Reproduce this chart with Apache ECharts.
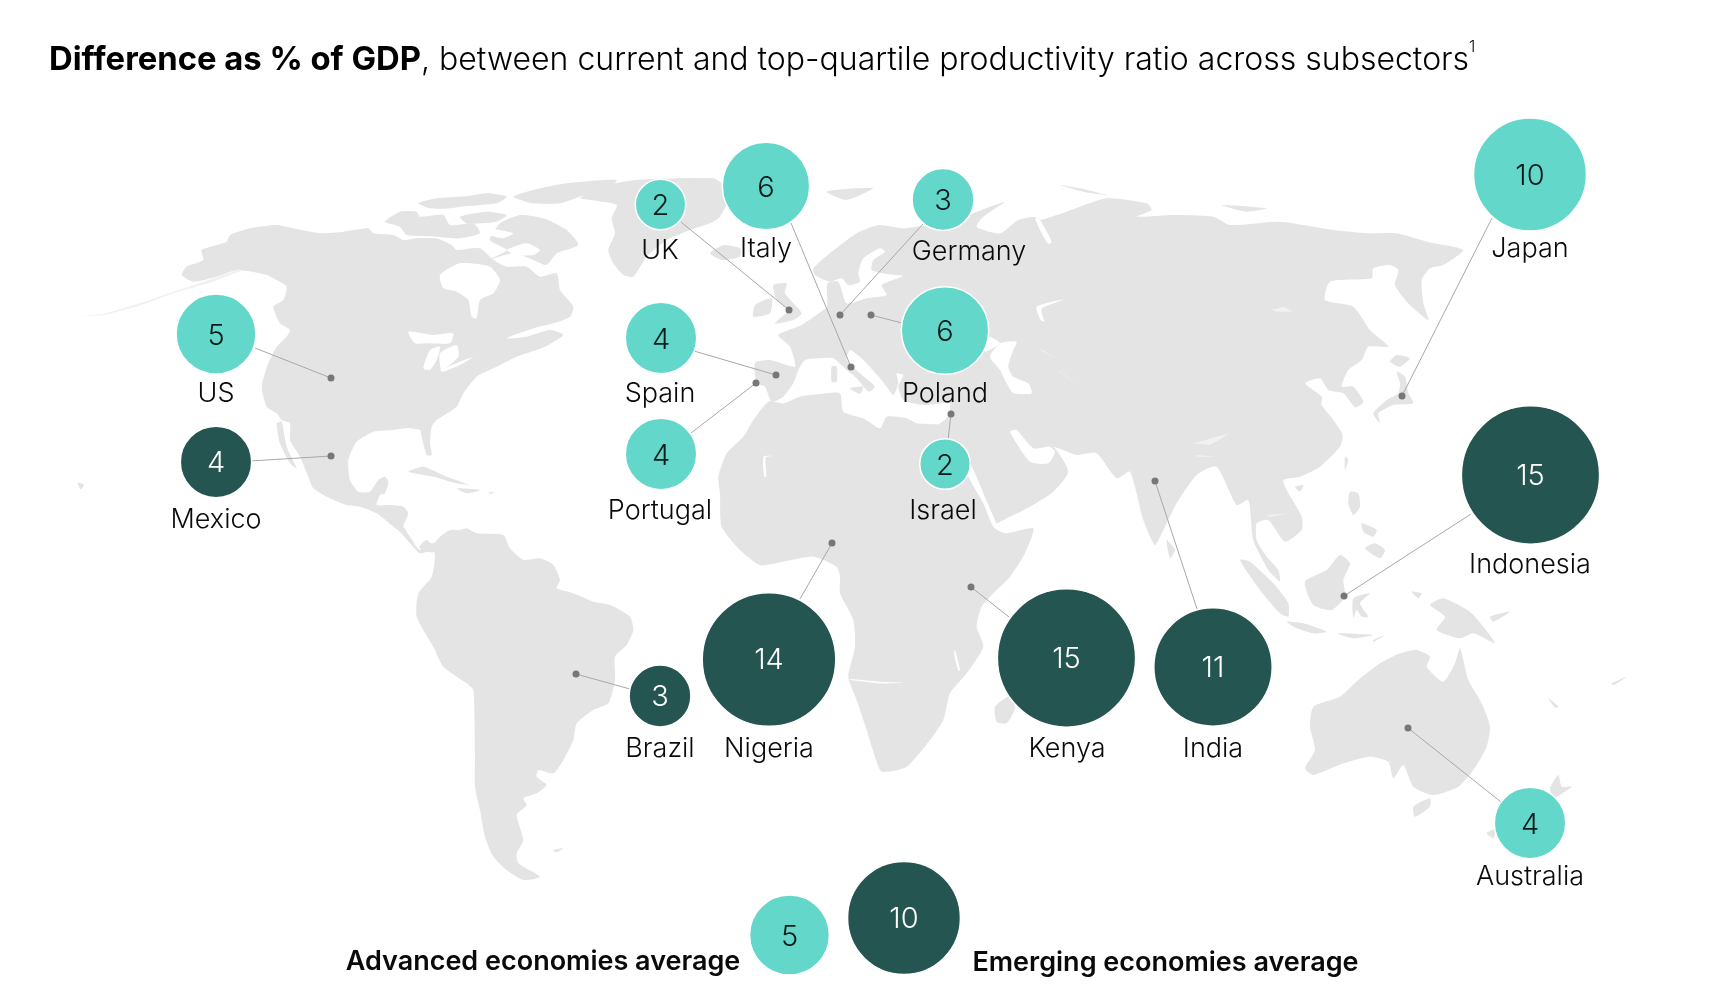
<!DOCTYPE html>
<html>
<head>
<meta charset="utf-8">
<style>html,body{margin:0;padding:0;background:#fff}#c{width:1716px;height:1004px}</style>
<script src="https://cdn.jsdelivr.net/npm/echarts@6/dist/echarts.min.js"></script>
</head>
<body>
<div id="c"></div>
<script>
// ---------- chart data ----------
const countries = ['UK','Italy','Germany','Japan','US','Spain','Poland','Mexico','Portugal','Israel','Indonesia','Nigeria','Kenya','India','Brazil','Australia'];
const values    = [2,6,3,10,5,4,6,4,4,2,15,14,15,11,3,4];
const groups    = ['adv','adv','adv','adv','adv','adv','adv','em','adv','adv','em','em','em','em','em','adv'];
const legendLabels = ['Advanced economies average','Emerging economies average'];
const legendValues = [5,10];
const titleBold = 'Difference as % of GDP';
const titleRest = ', between current and top-quartile productivity ratio across subsectors';

// ---------- layout (chart is laid out on a 1716 x 1004 value plane) ----------
const bubbleAt = {UK:[660.5,204.5],Italy:[766,186],Germany:[943,199.5],Japan:[1530,174.5],US:[216,334],Spain:[661,338],Poland:[945,330.5],Mexico:[216,462],Portugal:[661,454],Israel:[945,464],Indonesia:[1530.5,475],Nigeria:[769,659.5],Kenya:[1066.5,658],India:[1213,667],Brazil:[660,696],Australia:[1530,823]};
const pinAt = {UK:[789,310],Italy:[851,367],Germany:[840,315],Japan:[1402,396],US:[331,378],Spain:[776,375],Poland:[871,315],Mexico:[331,456],Portugal:[756,383],Israel:[951,414],Indonesia:[1344,596],Nigeria:[832,543],Kenya:[971,587],India:[1155,481],Brazil:[576,674],Australia:[1408,728]};
const leaderFrom = {UK:[681,222],Italy:[791,223],Germany:[923,224],Japan:[1492,218],US:[255,348],Spain:[694,351],Poland:[902,323],Mexico:[250,461],Portugal:[691,433],Israel:[948,440],Indonesia:[1471,514],Nigeria:[800,599],Kenya:[1009,617],India:[1197,609],Brazil:[630,689],Australia:[1501,802]};
const nameAt = {UK:[660,251],Italy:[766,249],Germany:[969,252],Japan:[1530,249],US:[216,393.5],Spain:[660,393.5],Poland:[945,393.5],Mexico:[216,520],Portugal:[660,511],Israel:[943,511],Indonesia:[1530,564.5],Nigeria:[769,748.5],Kenya:[1067,748.5],India:[1213,748.5],Brazil:[660,749],Australia:[1530,877]};
const legendBubbleAt = [[789.5,935],[904,918]];
const legendLabelAt = [[543,962],[1165.5,963]];
const areaScale = 35.7;

// ---------- backdrop map outline, traced in crops at 3x ----------
const P = (ox, oy, a) => { const r = []; for (let i = 0; i < a.length; i += 2) r.push([ox + a[i] / 3, oy + a[i + 1] / 3]); return r; };
const Z5 = [60,160], Z6 = [300,160], Z7 = [360,520], Z8 = [690,170], Z9 = [700,380], Z10 = [1000,170], Z11 = [1140,440];
const land = [
  // North America
  P(...Z5,[365,345,380,320,430,300,425,270,470,255,500,245,510,225,570,205,650,195,700,205,780,220,850,215,925,205,940,220,1000,225,1030,240,1070,235,1130,235,1175,255,1190,270,1260,265,1300,300,1340,320,1400,320,1440,350,1490,340,1500,390,1540,440,1530,470,1480,490,1420,505,1340,535,1400,530,1470,510,1510,525,1455,560,1370,590,1300,625,1250,650,1210,700,1190,740,1130,780,1115,800,1110,850,1115,885,1100,885,1085,830,1080,810,1040,805,1000,810,940,815,890,845,865,900,870,960,895,995,930,995,955,960,975,950,985,965,975,1000,960,1005,950,1035,985,1035,1030,1040,1045,1060,1030,1100,1050,1130,1075,1160,1100,1140,1130,1175,1100,1175,1060,1150,1040,1130,1000,1100,950,1060,900,1040,860,1035,800,1010,760,985,745,950,720,890,690,840,690,790,665,780,650,760,620,740,605,680,625,610,650,560,680,530,690,510,660,490,640,440,670,420,680,380,650,360,620,345,575,335,530,330,470,350,400,365]),
  P(...Z5,[650,790,665,785,680,860,710,925,690,910,660,850]),
  P(...Z5,[975,185,1020,155,1070,155,1080,170,1150,165,1170,195,1240,190,1260,220,1200,235,1130,230,1040,225,1020,200]),
  P(...Z5,[1075,130,1130,115,1230,110,1240,130,1170,145,1110,145]),
  P(...Z6,[565,300,620,270,570,240,600,190,660,165,730,175,800,210,835,255,770,280,740,315,700,300,640,280]),
  P(...Z6,[640,110,700,90,800,70,950,60,920,90,840,110,780,130,700,130]),
  P(...Z6,[380,130,470,115,560,100,620,110,590,130,480,140,410,145]),
  P(...Z6,[480,170,560,155,620,165,590,185,500,190]),
  P(...Z6,[840,115,900,80,1010,60,1240,55,1270,75,1280,130,1260,170,1230,190,1170,210,1100,240,1040,290,1000,350,970,345,940,310,925,270,945,220,935,175,950,135,870,120]),
  // Caribbean and Pacific islands of the Americas
  P(...Z5,[1045,935,1090,920,1160,950,1230,975,1190,970,1120,950]),
  P(...Z5,[1190,985,1260,990,1220,1000]),
  P(...Z5,[1285,997,1305,997,1290,1002]),
  P(...Z5,[52,968,72,975,62,988]),
  // South America
  P(...Z7,[90,0,130,20,160,70,180,90,190,65,220,70,240,50,270,30,300,30,320,25,350,40,430,45,450,85,490,120,540,115,580,135,600,180,590,205,640,220,700,245,750,255,810,290,820,330,800,375,765,410,765,480,745,550,700,570,650,610,640,660,610,720,580,760,535,750,530,770,560,795,530,820,490,835,500,855,470,885,490,960,470,1000,475,1030,540,1070,490,1080,440,1050,400,1010,375,950,360,870,345,800,345,700,340,510,320,490,250,440,220,380,170,290,175,220,215,170,225,110,220,90,180,100,150,70,120,35]),
  P(...Z7,[578,990,610,985,590,997]),
  // Africa
  P(...Z9,[205,65,250,70,300,50,380,40,420,40,430,95,490,115,540,145,560,110,620,115,650,130,720,135,745,155,790,250,810,300,850,370,880,440,915,460,1000,445,975,520,930,590,880,640,845,680,830,740,850,800,800,880,750,940,730,1020,690,1080,620,1160,545,1175,525,1130,500,1050,470,960,445,890,465,800,460,720,420,640,420,590,410,560,340,530,250,545,180,555,120,510,65,440,60,340,55,290,80,220,130,170,160,120]),
  P(...Z9,[935,945,885,980,890,1025,920,1030,945,985]),
  // Europe and western Asia
  P(...Z8,[195,578,240,570,315,590,300,530,265,495,335,465,400,420,412,410,412,340,445,335,470,400,530,385,590,375,575,345,640,318,590,312,545,300,550,270,585,245,570,235,520,265,505,310,510,335,475,345,455,325,420,335,375,315,370,295,420,250,500,190,565,165,640,175,720,165,790,165,850,130,945,95,880,140,860,170,930,190,985,150,1040,145,1040,840,1090,830,1135,905,1090,965,1020,1010,930,1055,920,1060,840,880,775,800,740,770,770,745,780,700,700,705,640,690,625,650,640,615,620,610,625,640,610,675,590,650,570,625,520,570,480,540,470,570,510,610,555,650,535,665,500,625,470,600,430,565,390,565,345,570,325,600,310,640,280,680,245,695,225,650,200,640]),
  P(...Z8,[250,345,290,340,285,370,335,430,310,450,255,460,295,420,260,390]),
  P(...Z8,[195,405,245,385,240,430,190,440]),
  P(...Z8,[60,250,100,225,150,235,150,260,95,270]),
  P(...Z8,[410,65,500,55,550,55,470,90]),
  P(...Z8,[425,590,440,590,440,635,425,635]),
  P(...Z8,[480,655,520,650,510,672]),
  // Eastern Asia
  P(...Z10,[100,145,120,150,200,125,320,85,440,100,455,120,410,140,520,135,640,140,690,165,840,155,1000,180,1100,190,1190,190,1280,215,1390,240,1330,285,1290,295,1265,330,1270,400,1285,450,1220,395,1185,345,1195,300,1170,285,1120,295,1115,325,990,335,975,390,1060,410,1110,480,1165,530,1105,530,1085,570,1045,600,1025,650,1060,650,1090,695,1065,712,1030,670,985,660,960,625,915,640,965,680,965,705,1000,750,1028,795,1020,830,960,890,900,920,850,930,860,960,905,1040,905,1080,855,1115,805,1050,770,1060,770,1110,800,1160,835,1200,840,1235,805,1200,760,1110,745,990,710,1005,650,890,590,915,530,1000,490,1080,465,1125,430,1050,390,905,350,925,290,850,230,855,160,830,100,840]),
  P(...Z10,[180,45,240,55,320,75,250,65]),
  P(...Z10,[665,105,800,115,740,125]),
  P(...Z10,[1170,575,1190,555,1230,565,1200,590]),
  P(...Z10,[1190,605,1215,620,1225,670,1240,700,1180,705,1135,730,1140,760,1120,730,1160,690,1195,670,1200,640]),
  P(...Z10,[1035,860,1045,870,1035,900]),
  P(...Z10,[885,950,910,945,900,965]),
  P(...Z10,[500,1110,525,1140,510,1165]),
  P(...Z10,[1050,965,1075,970,1080,1010,1060,1035,1045,1000]),
  P(...Z10,[1125,1120,1155,1140,1140,1165,1095,1135]),
  P(...Z10,[1085,1060,1130,1080,1120,1100,1090,1085]),
  // Indonesia and Oceania
  P(...Z11,[300,360,330,365,400,430,445,490,445,530,420,520,360,450]),
  P(...Z11,[495,425,560,390,600,345,630,370,610,420,615,470,575,510,520,495]),
  P(...Z11,[640,475,690,460,660,490,685,530,665,530,650,510,640,535]),
  P(...Z11,[440,545,490,550,560,575,520,580,470,565]),
  P(...Z11,[590,580,700,585,640,595]),
  P(...Z11,[700,600,735,585,700,606]),
  P(...Z11,[815,455,845,460,835,475]),
  P(...Z11,[870,495,910,475,990,515,1030,560,1065,610,1000,580,960,595,890,570,915,530]),
  P(...Z11,[1050,530,1110,515,1060,545]),
  P(...Z11,[1225,775,1255,800,1245,803]),
  P(...Z11,[1255,1005,1265,1040,1295,1040,1240,1075,1230,1045]),
  P(...Z11,[1040,1180,1070,1165,1060,1195]),
  P(...Z11,[1415,730,1460,710,1420,736]),
  P(...Z11,[520,800,600,770,655,720,720,670,780,640,830,630,870,650,860,680,910,725,945,670,960,625,985,720,1025,790,1050,860,1040,920,1000,990,955,1040,880,1065,820,1040,790,975,760,1015,745,965,690,950,610,970,520,1005,495,985,525,930,510,860]),
  P(...Z11,[820,1100,870,1075,870,1100,825,1130])
];
const water = [
  P(...Z5,[1140,345,1200,310,1290,320,1320,360,1300,400,1260,420,1250,475,1235,470,1225,420,1190,395,1150,385]),
  P(...Z5,[1045,515,1120,525,1180,520,1170,550,1100,550,1065,550]),
  P(...Z5,[1090,625,1110,570,1140,560,1130,600,1110,630]),
  P(...Z5,[1140,580,1190,555,1195,590,1145,630]),
  P(...Z5,[1140,630,1240,590,1200,615,1150,635]),
  P(...Z6,[620,270,680,250,720,270,700,285,650,285]),
  P(...Z6,[560,205,640,220,610,235,570,225]),
  P(...Z8,[895,500,930,520,885,545]),
  P(...Z10,[0,520,50,515,40,540,25,590,40,620,85,640,95,670,40,670,20,640,0,600,-30,560]),
  P(...Z10,[30,785,50,780,100,835,150,830,165,845,145,880,90,875]),
  P(...Z10,[105,145,120,150,155,215,145,222,125,190]),
  P(...Z10,[110,410,195,388,125,416,133,455,122,450]),
  P(...Z9,[450,897,540,905,610,908,540,910,450,900]),
  P(...Z9,[190,230,218,228,197,232,199,290,193,290]),
  P(...Z9,[765,810,780,870,775,872,762,820])
];
// thin, barely visible features: Aleutian chain and inland rivers
const faint = [
  P(...Z5,[60,468,130,462,240,430,340,395,440,362,540,328,545,332,450,368,340,400,230,440,130,466]),
  P(...Z10,[120,535,165,565,125,542]),
  P(...Z10,[175,600,255,660,180,606]),
  P(...Z10,[815,420,850,410,880,425,830,425]),
  P(...Z10,[580,820,690,790,630,825]),
  P(...Z10,[590,855,650,860,590,860]),
  P(...Z10,[800,1035,870,1030,810,1040])
];
const landColor = '#e4e4e4', bg = '#ffffff', faintColor = '#f1f1f1';
const teal = '#63d7c9', dark = '#245551', ink = '#0b1b1b';
const font = 'Inter';

const fillSeries = (polys, color, z, smooth) => ({
  type: 'custom', coordinateSystem: 'cartesian2d', silent: true, z,
  data: polys.map((_, i) => [i]),
  clip: false,
  renderItem: (p, api) => ({
    type: 'polygon',
    shape: { points: polys[api.value(0)].map(q => api.coord(q)), smooth },
    style: { fill: color }
  })
});

const names = countries.map((c, i) => ({ c, v: values[i], g: groups[i] }));
const bubbleSeries = (g, color, txt, dy) => ({
  type: 'scatter', z: 6, silent: true,
  symbolSize: d => areaScale * Math.sqrt(d[2]),
  itemStyle: { color, opacity: 1, borderColor: '#fff', borderWidth: 1.5 },
  label: { show: true, position: 'inside', offset: [0, dy], formatter: p => String(p.data[2]), color: txt, fontFamily: font, fontWeight: 300, fontSize: 29 },
  data: [
    ...names.filter(n => n.g === g).map(n => [...bubbleAt[n.c], n.v]),
    ...(g === 'adv' ? [[...legendBubbleAt[0], legendValues[0]]] : [[...legendBubbleAt[1], legendValues[1]]])
  ]
});
const textSeries = (data, weight) => ({
  type: 'scatter', z: 7, silent: true, symbolSize: 1,
  itemStyle: { color: 'transparent', opacity: 1 },
  label: { show: true, position: 'inside', formatter: p => p.data[2], color: '#0a0a0a', opacity: 1, fontFamily: font, fontWeight: weight, fontSize: 27 },
  data
});

const chart = echarts.init(document.getElementById('c'), null, { renderer: 'canvas' });
chart.setOption({
  animation: false,
  backgroundColor: bg,
  title: {
    left: 49, top: 39, padding: 0,
    text: `{b|${titleBold}}{r|${titleRest}}{s|1}`,
    textStyle: { rich: {
      b: { fontFamily: font, fontWeight: 700, fontSize: 32.8, color: '#000', lineHeight: 42 },
      r: { fontFamily: font, fontWeight: 300, fontSize: 32, color: '#000', lineHeight: 42 },
      s: { fontFamily: font, fontWeight: 300, fontSize: 16, color: '#000', lineHeight: 34, verticalAlign: 'top', padding: [0,0,0,0] }
    } }
  },
  grid: { left: 0, top: 0, right: 0, bottom: 0, containLabel: false },
  xAxis: { type: 'value', min: 0, max: 1716, show: false },
  yAxis: { type: 'value', min: 0, max: 1004, inverse: true, show: false },
  series: [
    fillSeries(land, landColor, 1, 0.2),
    fillSeries(water, bg, 2, 0.2),
    fillSeries(faint, faintColor, 2.5, 0),
    { type: 'lines', coordinateSystem: 'cartesian2d', z: 3, silent: true,
      lineStyle: { color: '#a8a8a8', width: 1, opacity: 1 },
      data: countries.map(c => ({ coords: [leaderFrom[c], pinAt[c]] })) },
    { type: 'scatter', z: 4, silent: true, symbolSize: 7, itemStyle: { color: '#777', opacity: 1 },
      data: countries.map(c => pinAt[c]) },
    bubbleSeries('adv', teal, ink, 2),
    bubbleSeries('em', dark, '#fff', 1),
    textSeries(countries.map(c => [...nameAt[c], c]), 300),
    textSeries(legendLabels.map((t, i) => [...legendLabelAt[i], t]), 600)
  ]
});
</script>
</body>
</html>
